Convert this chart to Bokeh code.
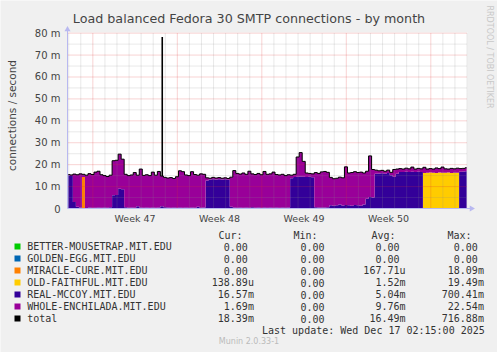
import numpy as np
from math import pi
from bokeh.plotting import figure
from bokeh.models import Range1d, ColumnDataSource, BoxAnnotation
from bokeh.core.properties import value
from bokeh.embed import file_html
from bokeh.resources import INLINE

W, H = 497, 352

TITLE = "Load balanced Fedora 30 SMTP connections - by month"
Y_LABEL = "connections / second"
SIDE_TEXT = "RRDTOOL / TOBI OETIKER"
FOOTER = "Munin 2.0.33-1"
LAST_UPDATE = "Last update: Wed Dec 17 02:15:00 2025"

STEP_DAYS = 0.25  # one sample every 6 hours, values in milli-connections/s

better_mousetrap = [
    0, 0, 0, 0, 0, 0, 0, 0, 0, 0,  0, 0, 0, 0, 0, 0, 0, 0, 0, 0,
    0, 0, 0, 0, 0, 0, 0, 0, 0, 0,  0, 0, 0, 0, 0, 0, 0, 0, 0, 0,
    0, 0, 0, 0, 0, 0, 0, 0, 0, 0,  0, 0, 0, 0, 0, 0, 0, 0, 0, 0,
    0, 0, 0, 0, 0, 0, 0, 0, 0, 0,  0, 0, 0, 0, 0, 0, 0, 0, 0, 0,
    0, 0, 0, 0, 0, 0, 0, 0, 0, 0,  0, 0, 0, 0, 0, 0, 0, 0, 0, 0,
    0, 0, 0, 0, 0, 0, 0, 0, 0, 0,  0, 0, 0, 0, 0, 0, 0, 0, 0, 0,
    0, 0, 0, 0, 0, 0, 0, 0, 0, 0,  0, 0, 0,
]
golden_egg = [
    0, 0, 0, 0, 0, 0, 0, 0, 0, 0,  0, 0, 0, 0, 0, 0, 0, 0, 0, 0,
    0, 0, 0, 0, 0, 0, 0, 0, 0, 0,  0, 0, 0, 0, 0, 0, 0, 0, 0, 0,
    0, 0, 0, 0, 0, 0, 0, 0, 0, 0,  0, 0, 0, 0, 0, 0, 0, 0, 0, 0,
    0, 0, 0, 0, 0, 0, 0, 0, 0, 0,  0, 0, 0, 0, 0, 0, 0, 0, 0, 0,
    0, 0, 0, 0, 0, 0, 0, 0, 0, 0,  0, 0, 0, 0, 0, 0, 0, 0, 0, 0,
    0, 0, 0, 0, 0, 0, 0, 0, 0, 0,  0, 0, 0, 0, 0, 0, 0, 0, 0, 0,
    0, 0, 0, 0, 0, 0, 0, 0, 0, 0,  0, 0, 0,
]
miracle_cure = [
    0, 0, 0, 0, 0, 14.4, 0, 0, 0, 0,  0, 0, 0, 0, 0, 0, 0, 0, 0, 0,
    0, 0, 0, 0, 0, 0, 0, 0, 0, 0,  0, 0, 0, 0, 0, 0, 0, 0, 0, 0,
    0, 0, 0, 0, 0, 0, 0, 0, 0, 0,  0, 0, 0, 0, 0, 0, 0, 0, 0, 0,
    0, 0, 0, 0, 0, 0, 0, 0, 0, 0,  0, 0, 0, 0, 0, 0, 0, 0, 0, 0,
    0, 0, 0, 0, 0, 0, 0, 0, 0, 0,  0, 0, 0, 0, 0, 0, 0, 0, 0, 0,
    0, 0, 0, 0, 0, 0, 0, 0, 0, 0,  0, 0, 0, 0, 0, 0, 0, 0, 0, 0,
    0, 0, 0, 0, 0, 0, 0, 0, 0, 0,  0, 0, 0,
]
old_faithful = [
    0, 0, 0, 0, 0, 0, 0, 0, 0, 0,  0, 0, 0, 0, 0, 0, 0, 0, 0, 0,
    0, 0, 0, 0, 0, 0, 0, 0, 0, 0,  0, 0, 0, 0, 0, 0, 0, 0, 0, 0,
    0, 0, 0, 0, 0, 0, 0, 0, 0, 0,  0, 0, 0, 0, 0, 0, 0, 0, 0, 0,
    0, 0, 0, 0, 0, 0, 0, 0, 0, 0,  0, 0, 0, 0, 0, 0, 0, 0, 0, 0,
    0, 0, 0, 0, 0, 0, 0, 0, 0, 0,  0, 0, 0, 0, 0, 0, 0, 0, 0, 0,
    0, 0, 0, 0, 0, 0, 0, 0, 0, 0,  0, 0, 0, 0, 0, 0, 0, 0, 16.2, 16.3,
    16.4, 16.3, 16.2, 16.4, 16.3, 16.3, 16.4, 16.2, 16.3, 16.3,  0, 0, 0,
]
real_mccoy = [
    15.2, 14.8, 3.0, 0.8, 0.4, 0.0, 0.0, 0.5, 0.3, 0.3,
    0.4, 0.3, 0.5, 0.3, 0.6, 6.0, 6.2, 9.0, 8.8, 0.6,
    0.3, 0.4, 0.3, 1.0, 0.4, 0.3, 0.5, 0.3, 0.4, 0.3,
    0.5, 1.0, 0.6, 0.4, 0.3, 0.5, 0.3, 0.4, 0.3, 0.5,
    0.3, 0.4, 0.3, 0.8, 0.3, 0.4, 12.8, 13.2, 13.3, 13.2,
    13.4, 13.2, 13.3, 13.1, 0.8, 0.4, 0.3, 0.5, 0.3, 0.4,
    0.3, 0.6, 0.3, 0.4, 0.3, 0.5, 0.3, 0.4, 0.3, 0.5,
    0.3, 0.4, 0.3, 0.5, 13.8, 14.4, 14.5, 14.6, 14.5, 14.4,
    14.5, 14.3, 0.6, 0.4, 0.5, 0.4, 0.6, 1.5, 1.2, 1.5,
    1.8, 1.4, 1.6, 1.5, 1.2, 1.6, 1.5, 1.3, 1.8, 4.5,
    5.3, 5.0, 15.8, 16.0, 16.1, 15.9, 16.2, 15.2, 14.5, 15.8,
    16.6, 16.7, 16.8, 16.7, 16.8, 16.6, 16.8, 16.7, 0.0, 0.0,
    0.0, 0.0, 0.0, 0.0, 0.0, 0.0, 0.0, 0.0, 0.0, 0.0,
    16.8, 16.9, 17.0,
]
whole_enchilada = [
    0.3, 0.5, 12.7, 14.6, 15.4, 1.2, 15.2, 15.4, 15.2, 16.3,
    16.6, 15.1, 14.5, 14.3, 14.6, 15.8, 15.8, 15.8, 13.7, 15.0,
    14.7, 14.9, 16.1, 14.2, 17.6, 14.8, 14.9, 14.7, 16.2, 14.9,
    16.4, 13.8, 13.6, 13.5, 13.8, 13.2, 14.2, 16.8, 16.5, 14.8,
    14.7, 16.4, 15.2, 14.4, 15.5, 15.2, 1.2, 0.6, 0.9, 0.7,
    0.7, 0.6, 0.7, 0.6, 13.5, 16.9, 15.7, 15.2, 15.9, 15.2,
    16.7, 15.2, 15.2, 15.6, 15.1, 16.4, 15.3, 15.4, 16.3, 15.0,
    15.0, 15.2, 14.7, 14.9, 1.4, 1.2, 9.0, 10.9, 7.0, 1.8,
    1.5, 1.5, 15.8, 15.6, 16.2, 16.5, 15.9, 12.7, 12.4, 12.3,
    12.5, 12.6, 17.4, 14.7, 15.2, 15.2, 14.9, 15.3, 14.4, 12.5,
    18.7, 12.8, 1.7, 1.2, 1.3, 1.1, 1.3, 1.3, 3.3, 2.2,
    1.6, 1.3, 1.6, 1.4, 2.1, 1.4, 1.5, 1.4, 2.6, 1.7,
    1.8, 1.7, 2.3, 1.8, 2.6, 1.8, 1.6, 2.1, 1.8, 2.1,
    1.4, 1.4, 1.6,
]
# short peak (REAL-MCCOY burst) drawn by the total line
spike_day = [7.85]
spike_base = [14.8]
spike_top = [78.2]

y_ticks = [0, 10, 20, 30, 40, 50, 60, 70, 80]
y_tick_labels = ["0", "10 m", "20 m", "30 m", "40 m", "50 m", "60 m", "70 m", "80 m"]
week_ticks = [5.6, 12.6, 19.6, 26.6]
week_labels = ["Week 47", "Week 48", "Week 49", "Week 50"]

legend_names = ["BETTER-MOUSETRAP.MIT.EDU", "GOLDEN-EGG.MIT.EDU", "MIRACLE-CURE.MIT.EDU",
                "OLD-FAITHFUL.MIT.EDU", "REAL-MCCOY.MIT.EDU", "WHOLE-ENCHILADA.MIT.EDU", "total"]
series_colors = ["#00CC00", "#0066B3", "#FF8000", "#FFCC00", "#330099", "#990099"]
total_color = "#000000"
cur_vals = ["0.00", "0.00", "0.00", "138.89u", "16.57m", "1.69m", "18.39m"]
min_vals = ["0.00", "0.00", "0.00", "0.00", "0.00", "0.00", "0.00"]
avg_vals = ["0.00", "0.00", "167.71u", "1.52m", "5.04m", "9.76m", "16.49m"]
max_vals = ["0.00", "0.00", "18.09m", "19.49m", "700.41m", "22.54m", "716.88m"]
headers = ["Cur:", "Min:", "Avg:", "Max:"]

# --------------------------------------------------------------- layout ----
X_MAX, Y_MAX = 33.14, 80.3            # data extent of the graph area
FL, FR, FT, FB = 67, 467, 32, 208     # graph area in canvas pixels
DPX = X_MAX / (FR - FL)
VPX = Y_MAX / (FB - FT)


def dx(px):
    return (px - FL) * DPX


def dy(py):
    return (FB - py) * VPX


p = figure(width=W, height=H, output_backend="svg", toolbar_location=None,
           x_range=Range1d(dx(0), dx(W)), y_range=Range1d(dy(H), dy(0)),
           x_axis_location=None, y_axis_location=None,
           min_border_left=0, min_border_right=0, min_border_top=0, min_border_bottom=0,
           background_fill_color="#F0F0F0", border_fill_color="#F0F0F0",
           outline_line_color=None)
p.grid.visible = False
p.add_layout(BoxAnnotation(left=0, right=X_MAX, bottom=0, top=Y_MAX, fill_color="white",
                           fill_alpha=1.0, line_color=None, level="underlay"))

# ---------------------------------------------------------------- areas ----
series = [better_mousetrap, golden_egg, miracle_cure, old_faithful, real_mccoy, whole_enchilada]
x = np.arange(len(real_mccoy)) * STEP_DAYS + 0.07
tops = np.cumsum(np.array(series, dtype=float), axis=0)
data = dict(x=x, s0=np.zeros_like(x))
for k in range(len(series)):
    data[f"s{k + 1}"] = tops[k]
src = ColumnDataSource(data)
TOP = f"s{len(series)}"
for k, color in enumerate(series_colors):
    p.varea_step(x="x", y1=f"s{k}", y2=f"s{k + 1}", step_mode="center", source=src,
                 fill_color=color)

# ----------------------------------------------------------------- grid ----
major_days = [2.1 + 7 * k for k in range(5)]
minor_days = [0.1 + k for k in range(34) if (k - 2) % 7 != 0]
minor_vals = [5, 15, 25, 35, 45, 55, 65, 75]
major_vals = [10, 20, 30, 40, 50, 60, 70, 80]
GRID_MINOR, GRID_MAJOR = "#8C8C8C", "#E03030"
p.segment(x0=minor_days, y0=0, x1=minor_days, y1=Y_MAX, line_color=GRID_MINOR,
          line_alpha=0.38, line_dash="1 1", line_width=1)
p.segment(x0=0, y0=minor_vals, x1=X_MAX, y1=minor_vals, line_color=GRID_MINOR,
          line_alpha=0.38, line_dash="1 1", line_width=1)
p.segment(x0=major_days, y0=0, x1=major_days, y1=Y_MAX, line_color=GRID_MAJOR,
          line_alpha=0.42, line_dash="1 1", line_width=1)
p.segment(x0=0, y0=major_vals, x1=X_MAX, y1=major_vals, line_color=GRID_MAJOR,
          line_alpha=0.42, line_dash="1 1", line_width=1)

# ---------------------------------------------------------------- total ----
p.step(x="x", y=TOP, mode="center", source=src, line_color=total_color, line_width=1)
p.segment(x0=spike_day, y0=spike_base, x1=spike_day, y1=spike_top,
          line_color=total_color, line_width=1.6)

# ----------------------------------------------------------------- axes ----
AX = "#B8B8F0"
p.segment(x0=[0, 0], y0=[0, 0], x1=[dx(470), 0], y1=[0, dy(30)], line_color=AX, line_width=1)
p.scatter(x=[dx(471)], y=[0], marker="triangle", size=6, angle=-pi / 2,
          fill_color=AX, line_color=None)
p.scatter(x=[0], y=[dy(29)], marker="triangle", size=6, fill_color=AX, line_color=None)

SANS = value("DejaVu Sans")
MONO = value("DejaVu Sans Mono")
LBL = "#444444"
p.text(x=[dx(60)] * len(y_ticks), y=y_ticks, text=y_tick_labels, text_font=SANS,
       text_font_size=value("10px"), text_color=LBL, text_align="right", text_baseline="middle")
p.text(x=week_ticks, y=[dy(212)] * len(week_ticks), text=week_labels, text_font=SANS,
       text_font_size=value("9.5px"), text_color=LBL, text_align="center", text_baseline="top")

p.text(x=[dx(248.5)], y=[dy(18)], text=[TITLE], text_font=SANS, text_font_size=value("12.7px"),
       text_color=LBL, text_align="center", text_baseline="alphabetic")
p.text(x=[dx(11)], y=[dy(115)], text=[Y_LABEL], text_font=SANS, text_font_size=value("10.5px"),
       text_color=LBL, text_align="center", text_baseline="middle", angle=pi / 2)
p.text(x=[dx(489)], y=[dy(5)], text=[SIDE_TEXT], text_font=SANS, text_font_size=value("8px"),
       text_color="#C8C8C8", text_align="left", text_baseline="middle", angle=-pi / 2)

# --------------------------------------------------------------- legend ----
TXT = "#333333"
CH = 6.02                               # advance of one monospaced character
row_py = [246 + 12 * i for i in range(len(legend_names))]
row_y = [dy(v) for v in row_py]
p.rect(x=[dx(17)] * len(row_y), y=row_y, width=6, height=6, width_units="screen",
       height_units="screen", fill_color=series_colors + [total_color], line_color=None)
p.text(x=[dx(v) for v in (218, 293, 371, 447)], y=[dy(234.5)] * 4, text=headers,
       text_font=MONO, text_font_size=value("10px"), text_color=TXT,
       text_align="left", text_baseline="middle")
p.text(x=[dx(26.7)] * len(row_y), y=row_y, text=legend_names, text_font=MONO,
       text_font_size=value("10px"), text_color=TXT, text_align="left", text_baseline="middle")
for field_end, vals in zip([253.4, 330.1, 405.0, 483.4], [cur_vals, min_vals, avg_vals, max_vals]):
    ends = [dx(field_end - (0 if v[-1].isalpha() else CH)) for v in vals]
    p.text(x=ends, y=row_y, text=vals, text_font=MONO, text_font_size=value("10px"),
           text_color=TXT, text_align="right", text_baseline="middle")
p.text(x=[dx(261.5)], y=[dy(330)], text=[LAST_UPDATE], text_font=MONO,
       text_font_size=value("10px"), text_color=TXT, text_align="left", text_baseline="middle")
p.text(x=[dx(248.5)], y=[dy(341)], text=[FOOTER], text_font=SANS, text_font_size=value("8px"),
       text_color="#BBBBBB", text_align="center", text_baseline="middle")

open("out.html", "w").write(file_html(p, INLINE))
